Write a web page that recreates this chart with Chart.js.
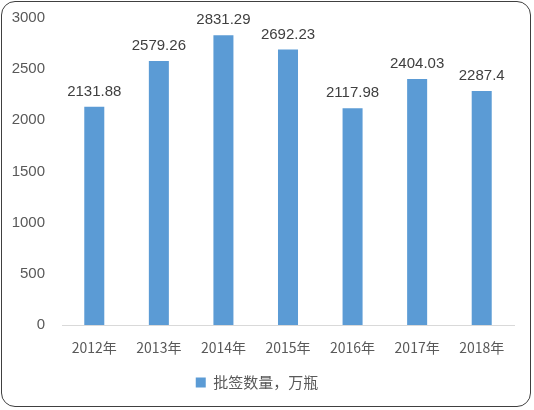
<!DOCTYPE html>
<html>
<head>
<meta charset="utf-8">
<script src="https://cdn.jsdelivr.net/npm/chart.js@4"></script>
<style>
  html, body { margin: 0; padding: 0; background: #fff; }
  #wrap {
    position: absolute; left: 1px; top: 1px;
    width: 530px; height: 406px;
    border: 1.5px solid #404040; border-radius: 14px;
    box-sizing: border-box; overflow: hidden;
  }
  #chart { position: absolute; left: 0; top: 0; }
</style>
</head>
<body>
<div id="wrap"></div>
<canvas id="chart" width="534" height="410"></canvas>
<script>
const years = ["2012年", "2013年", "2014年", "2015年", "2016年", "2017年", "2018年"];
const counts = [2131.88, 2579.26, 2831.29, 2692.23, 2117.98, 2404.03, 2287.4];
const yTicks = [0, 500, 1000, 1500, 2000, 2500, 3000];
const seriesName = "批签数量，万瓶";

// values above each bar
const barLabels = {
  id: "barLabels",
  afterDatasetsDraw(chart) {
    const ctx = chart.ctx;
    const meta = chart.getDatasetMeta(0);
    ctx.save();
    ctx.font = "15px 'Liberation Sans', 'DejaVu Sans', sans-serif";
    ctx.fillStyle = "#404040";
    ctx.textAlign = "center";
    ctx.textBaseline = "middle";
    meta.data.forEach((bar, i) => {
      ctx.fillText(String(counts[i]), bar.x, bar.y - 15);
    });
    ctx.restore();
  }
};

new Chart(document.getElementById("chart"), {
  type: "bar",
  data: {
    labels: years,
    datasets: [{
      label: seriesName,
      data: counts,
      backgroundColor: "#5B9BD5",
      barPercentage: 0.31,
      categoryPercentage: 1,
    }],
  },
  options: {
    responsive: false,
    animation: false,
    devicePixelRatio: 1,
    layout: { padding: { left: 0, right: 20, top: 18, bottom: 10 } },
    plugins: {
      tooltip: { enabled: false },
      legend: {
        position: "bottom",
        labels: {
          boxWidth: 10, boxHeight: 10,
          color: "#595959",
          font: { size: 15, family: "'Noto Sans CJK SC', sans-serif" },
        },
      },
    },
    scales: {
      x: {
        grid: { display: false, drawTicks: false },
        border: { display: true, color: "#d9d9d9", width: 1 },
        ticks: {
          color: "#595959", padding: 14, maxRotation: 0,
          font: { size: 14, family: "'Noto Sans CJK SC', sans-serif" },
        },
        afterFit(scale) { scale.height = 40; },
      },
      y: {
        min: 0, max: 3000,
        afterBuildTicks(scale) { scale.ticks = yTicks.map(v => ({ value: v })); },
        grid: { display: false, drawTicks: false },
        border: { display: false },
        ticks: {
          color: "#595959", padding: 17,
          callback: v => String(v),
          font: { size: 15, family: "'Liberation Sans', sans-serif" },
        },
        afterFit(scale) {
          scale.width = 62;
          scale.paddingTop = 0;
          scale.paddingBottom = 0;
        },
      },
    },
  },
  plugins: [barLabels],
});
</script>
</body>
</html>
